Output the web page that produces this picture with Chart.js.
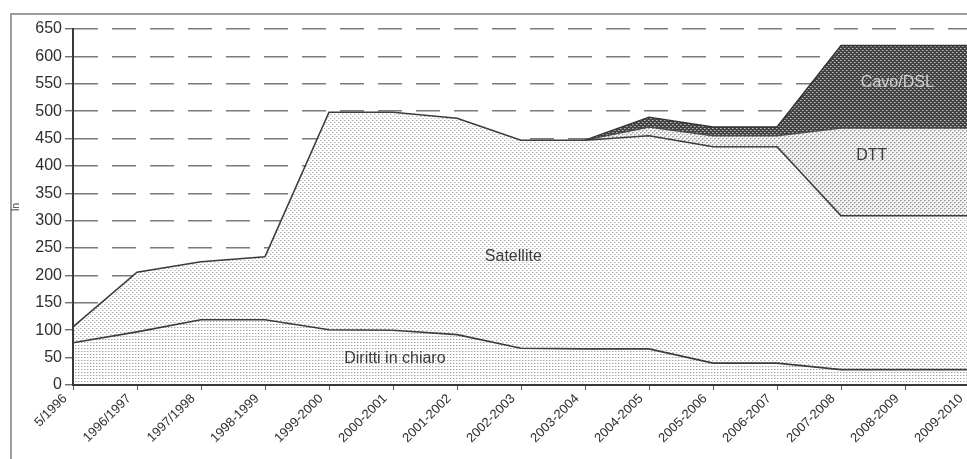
<!DOCTYPE html>
<html>
<head>
<meta charset="utf-8">
<script src="https://cdn.jsdelivr.net/npm/chart.js@4/dist/chart.umd.min.js"></script>
<style>
  html, body { margin: 0; padding: 0; background: #fff; overflow: hidden; width: 967px; height: 459px; }
  #frame { position: absolute; left: 10px; top: 13px; width: 980px; height: 470px;
           border-left: 2px solid #9c9c9c; border-top: 2px solid #9c9c9c; }
  #wrap { position: absolute; left: 0; top: 0; width: 990px; height: 459px; }
</style>
</head>
<body>
<div id="frame"></div>
<div id="wrap"><canvas id="c" width="990" height="459"></canvas></div>
<script>
// Seasons on the horizontal axis
const seasons = ['5/1996', '1996/1997', '1997/1998', '1998-1999', '1999-2000', '2000-2001',
  '2001-2002', '2002-2003', '2003-2004', '2004-2005', '2005-2006', '2006-2007',
  '2007-2008', '2008-2009', '2009-2010'];

// Stacked layers (each value is the thickness of that layer)
const dirittiInChiaro = [77, 97, 119, 119, 101, 100, 92, 67, 66, 66, 40, 40, 28, 28, 28];
const satellite       = [29, 109, 106, 115, 397, 398, 395, 380, 381, 389, 395, 395, 281, 281, 281];
const dtt             = [0, 0, 0, 0, 0, 0, 0, 0, 0, 16, 20, 20, 160, 160, 160];
const cavoDsl         = [0, 0, 0, 0, 0, 0, 0, 0, 0, 18, 16, 16, 151, 151, 151];

// Value axis
const yMin = 0, yMax = 650, yStep = 50;

// Layer names written inside the areas
const layerNames = ['Diritti in chiaro', 'Satellite', 'DTT', 'Cavo/DSL'];

// Stippled fills, built from small tiles
function makePattern(size, bg, dots) {
  const c = document.createElement('canvas');
  c.width = size; c.height = size;
  const g = c.getContext('2d');
  g.fillStyle = bg; g.fillRect(0, 0, size, size);
  dots.forEach(([x, y, col]) => { g.fillStyle = col; g.fillRect(x, y, 1, 1); });
  return g.createPattern(c, 'repeat');
}
const fineGrid = makePattern(3, '#ffffff', [[0, 0, '#a4a4a4'], [1, 0, '#d6d6d6']]);
const lightStipple = makePattern(4, '#ffffff', [[0, 0, '#b0b0b0'], [1, 0, '#dcdcdc'], [2, 2, '#b0b0b0'], [3, 2, '#dcdcdc']]);
const mediumStipple = makePattern(4, '#f4f4f4', [[0, 0, '#9a9a9a'], [1, 0, '#bdbdbd'], [2, 2, '#9a9a9a'], [3, 2, '#bdbdbd'], [0, 1, '#d0d0d0'], [2, 3, '#d0d0d0']]);
const darkCheck = makePattern(4, '#444444', [[0, 0, '#bdbdbd'], [1, 0, '#8a8a8a'], [2, 2, '#bdbdbd'], [3, 2, '#8a8a8a']]);

const FIRST_NEW = 8; // DTT and Cavo/DSL start at 2003-2004
const hideEarly = col => ctx => (ctx.p0DataIndex < FIRST_NEW ? 'rgba(0,0,0,0)' : col);

// Labels placed in data coordinates (category index, value)
const labelSpots = [
  { name: layerNames[0], i: 5.03, v: 49,  color: '#3a3a3a' },
  { name: layerNames[1], i: 6.88, v: 235, color: '#3a3a3a' },
  { name: layerNames[2], i: 12.48, v: 418, color: '#3a3a3a' },
  { name: layerNames[3], i: 12.88, v: 553, color: '#cfcfcf' }
];

const areaLabels = {
  id: 'areaLabels',
  afterDatasetsDraw(chart) {
    const { ctx, scales: { x, y } } = chart;
    ctx.save();
    ctx.font = '16px "Liberation Sans", Arial, sans-serif';
    ctx.textAlign = 'center';
    ctx.textBaseline = 'middle';
    labelSpots.forEach(s => {
      ctx.fillStyle = s.color;
      ctx.fillText(s.name, x.getPixelForValue(s.i), y.getPixelForValue(s.v));
    });
    ctx.restore();
  }
};

const font = '"Liberation Sans", Arial, sans-serif';

new Chart(document.getElementById('c'), {
  type: 'line',
  data: {
    labels: seasons,
    datasets: [
      { label: layerNames[0], data: dirittiInChiaro, fill: 'origin', backgroundColor: fineGrid,
        borderColor: '#3c3c3c', borderWidth: 1.6 },
      { label: layerNames[1], data: satellite, fill: '-1', backgroundColor: lightStipple,
        borderColor: '#3c3c3c', borderWidth: 1.6 },
      { label: layerNames[2], data: dtt, fill: '-1', backgroundColor: mediumStipple,
        borderColor: '#4a4a4a', borderWidth: 1.4, segment: { borderColor: hideEarly('#4a4a4a') } },
      { label: layerNames[3], data: cavoDsl, fill: '-1', backgroundColor: darkCheck,
        borderColor: '#333333', borderWidth: 1.4, segment: { borderColor: hideEarly('#333333') } }
    ]
  },
  options: {
    responsive: false,
    animation: false,
    layout: { padding: { left: 6, right: 21, top: 29, bottom: 0 } },
    elements: { point: { radius: 0 }, line: { tension: 0 } },
    plugins: { legend: { display: false }, tooltip: { enabled: false } },
    scales: {
      x: {
        offset: false,
        grid: { drawOnChartArea: false, drawTicks: true, tickLength: 5, color: '#555', lineWidth: 1 },
        border: { display: true, color: '#3a3a3a', width: 2, z: 1 },
        ticks: { autoSkip: false, minRotation: 45, maxRotation: 45, padding: 1, labelOffset: -8,
                 color: '#2e2e2e', font: { family: font, size: 13 } },
        afterFit: s => { s.height = 74; }
      },
      y: {
        stacked: true,
        min: yMin, max: yMax,
        ticks: { stepSize: yStep, padding: 3, color: '#2e2e2e', font: { family: font, size: 16 } },
        grid: { color: '#7a7a7a', lineWidth: 1.5, tickLength: 8, tickColor: '#555', tickWidth: 1.2 },
        border: { display: true, color: '#3a3a3a', width: 2, z: 1, dash: [24, 14] },
        title: { display: true, text: 'In', color: '#333', font: { family: font, size: 10 }, padding: { top: 4, bottom: 4 } },
        afterFit: s => { s.width = 67; }
      }
    }
  },
  plugins: [areaLabels]
});
</script>
</body>
</html>
